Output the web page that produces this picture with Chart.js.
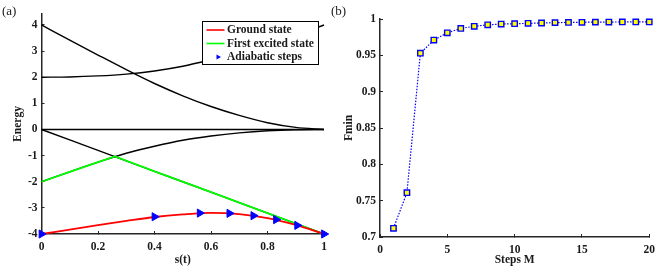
<!DOCTYPE html>
<html>
<head>
<meta charset="utf-8">
<script src="https://cdn.jsdelivr.net/npm/chart.js@4.4.0/dist/chart.umd.min.js"></script>
<style>
  html, body { margin: 0; padding: 0; background: #ffffff; }
  #wrap { position: relative; width: 664px; height: 268px; overflow: hidden; background: #ffffff; }
  .pane { position: absolute; top: 0; }
  .tag { position: absolute; font-family: 'Liberation Serif', serif; font-size: 13px; line-height: 15px; color: #1a1a1a; }
</style>
</head>
<body>
<div id="wrap">
  <div class="pane" style="left:0px;width:340px;height:268px;"><canvas id="ca" width="340" height="268"></canvas></div>
  <div class="pane" style="left:340px;width:324px;height:268px;"><canvas id="cb" width="324" height="268"></canvas></div>
  <div class="tag" style="left:2px;top:3px;">(a)</div>
  <div class="tag" style="left:331px;top:3px;">(b)</div>
</div>
<script>
// ---------- Panel (a) data ----------
const sGrid        = [0, 0.1, 0.2, 0.3, 0.4, 0.5, 0.6, 0.7, 0.8, 0.9, 1.0];
const levelTop     = [4.0, 3.42, 2.85, 2.29, 1.76, 1.29, 0.88, 0.54, 0.26, 0.08, 0.0];
const levelUpper   = [2.0, 2.01, 2.05, 2.12, 2.24, 2.42, 2.67, 2.95, 3.27, 3.62, 4.0];
const levelZero    = [0, 0, 0, 0, 0, 0, 0, 0, 0, 0, 0];
const levelLinear  = [0, -0.4, -0.8, -1.2, -1.6, -2.0, -2.4, -2.8, -3.2, -3.6, -4.0];
const levelLower   = [-2.0, -1.62, -1.25, -0.91, -0.64, -0.41, -0.25, -0.13, -0.05, -0.01, 0.0];
const groundState  = [-4.0, -3.83, -3.66, -3.50, -3.35, -3.25, -3.19, -3.24, -3.39, -3.65, -4.0];
const excitedS     = [0, 0.1, 0.2, 0.26, 0.4, 0.6, 0.8, 1.0];
const excitedState = [-2.0, -1.62, -1.25, -1.03, -1.6, -2.4, -3.2, -4.0];
const stepS        = [0, 0.4, 0.56, 0.665, 0.75, 0.83, 0.905, 1.0];
const stepE        = [-4.0, -3.34, -3.2, -3.21, -3.3, -3.45, -3.67, -4.0];
const xTicksA      = [0, 0.2, 0.4, 0.6, 0.8, 1];
const xTickLabelsA = ['0', '0.2', '0.4', '0.6', '0.8', '1'];
const yTicksA      = [-4, -3, -2, -1, 0, 1, 2, 3, 4];
const yTickLabelsA = ['-4', '-3', '-2', '-1', '0', '1', '2', '3', '4'];

// ---------- Panel (b) data ----------
const stepsM = [1, 2, 3, 4, 5, 6, 7, 8, 9, 10, 11, 12, 13, 14, 15, 16, 17, 18, 19, 20];
const fmin   = [0.712, 0.761, 0.953, 0.971, 0.981, 0.987, 0.990, 0.992, 0.993, 0.9935,
                0.994, 0.9945, 0.995, 0.9953, 0.9955, 0.9957, 0.9958, 0.9959, 0.996, 0.996];
const xTicksB      = [0, 5, 10, 15, 20];
const xTickLabelsB = ['0', '5', '10', '15', '20'];
const yTicksB      = [0.7, 0.75, 0.8, 0.85, 0.9, 0.95, 1];
const yTickLabelsB = ['0.7', '0.75', '0.8', '0.85', '0.9', '0.95', '1'];

const FONT = "'Liberation Serif', 'Times New Roman', serif";
const AXIS = '#262626';
const TXT = '#1a1a1a';

function pts(xs, ys) { return xs.map((x, i) => ({ x: x, y: ys[i] })); }

function tickSetter(values) {
  return function (scale) { scale.ticks = values.map(v => ({ value: v })); };
}
function labeler(values, labels) {
  return function (v) { const i = values.findIndex(t => Math.abs(t - v) < 1e-9); return i >= 0 ? labels[i] : ''; };
}

function axisBase(pos, title, titlePad, ticks, labels, tickPad) {
  return {
    type: 'linear',
    position: pos,
    border: { display: true, color: AXIS, width: 1.5 },
    grid: { drawOnChartArea: false, drawTicks: true, tickLength: -3, tickColor: AXIS, tickWidth: 1 },
    ticks: {
      color: TXT, padding: tickPad, autoSkip: false, maxRotation: 0,
      font: { family: FONT, size: 11.5, weight: 'bold' },
      callback: labeler(ticks, labels)
    },
    afterBuildTicks: tickSetter(ticks),
    title: {
      display: true, text: title, color: TXT,
      font: { family: FONT, size: 11.5, weight: 'bold' },
      padding: titlePad
    }
  };
}

const boxLegend = {
  id: 'boxLegend',
  afterDraw(chart, args, o) {
    const ctx = chart.ctx;
    ctx.save();
    ctx.fillStyle = '#ffffff';
    ctx.fillRect(o.x, o.y, o.w, o.h);
    ctx.strokeStyle = '#000000';
    ctx.lineWidth = 1;
    ctx.strokeRect(o.x, o.y, o.w, o.h);
    ctx.font = 'bold 11.5px ' + FONT;
    ctx.textBaseline = 'middle';
    ctx.textAlign = 'left';
    o.items.forEach((idx, i) => {
      const ds = chart.data.datasets[idx];
      const y = o.y + o.row0 + i * o.rowGap;
      if (ds.showLine === false) {
        const cx = o.x + 15.5, r = 3;
        ctx.fillStyle = ds.backgroundColor;
        ctx.beginPath();
        ctx.moveTo(cx + r, y);
        ctx.lineTo(cx - r * 0.5, y - r * 0.87);
        ctx.lineTo(cx - r * 0.5, y + r * 0.87);
        ctx.closePath();
        ctx.fill();
      } else {
        ctx.strokeStyle = ds.borderColor;
        ctx.lineWidth = 1.6;
        ctx.beginPath();
        ctx.moveTo(o.x + 4, y);
        ctx.lineTo(o.x + 22, y);
        ctx.stroke();
      }
      ctx.fillStyle = TXT;
      ctx.fillText(ds.label, o.x + 24.5, y + 0.5);
    });
    ctx.restore();
  }
};

const commonPlugins = { legend: { display: false }, tooltip: { enabled: false } };

// ---------- Chart (a) ----------
const xA = axisBase('bottom', 's(t)', { top: 0, bottom: 1 }, xTicksA, xTickLabelsA, 9);
xA.min = 0; xA.max = 1;
xA.afterFit = s => { s.height = 34; };
const yA = axisBase('left', 'Energy', { top: 11, bottom: 0 }, yTicksA, yTickLabelsA, 7);
yA.min = -4; yA.max = 4.42;
yA.afterFit = s => { s.width = 41.5; };

function blackLine(ys, smooth) {
  return { label: '', data: pts(sGrid, ys), borderColor: '#000000', borderWidth: 1.4, pointRadius: 0,
           fill: false, clip: false, cubicInterpolationMode: smooth ? 'monotone' : 'default', tension: 0 };
}

new Chart(document.getElementById('ca'), {
  type: 'line',
  data: {
    datasets: [
      { label: 'Adiabatic steps', data: pts(stepS, stepE), showLine: false, pointStyle: 'triangle',
        rotation: 90, pointRadius: 4.7, pointBackgroundColor: '#0000ff', backgroundColor: '#0000ff',
        pointBorderColor: '#0000ff', borderColor: '#0000ff', pointBorderWidth: 1, clip: false },
      { label: 'Ground state', data: pts(sGrid, groundState), borderColor: '#ff0000', borderWidth: 1.8,
        pointRadius: 0, fill: false, clip: false, cubicInterpolationMode: 'monotone' },
      { label: 'First excited state', data: pts(excitedS, excitedState), borderColor: '#00ff00', borderWidth: 1.8,
        pointRadius: 0, fill: false, clip: false, tension: 0 },
      blackLine(levelTop, true),
      blackLine(levelUpper, true),
      blackLine(levelZero, false),
      blackLine(levelLinear, false),
      blackLine(levelLower, true)
    ]
  },
  options: {
    responsive: false, animation: false, devicePixelRatio: 1,
    layout: { padding: { top: 14, right: 16, left: 0, bottom: 0 } },
    plugins: Object.assign({}, commonPlugins, {
      boxLegend: { x: 202.5, y: 21.5, w: 116, h: 43, row0: 8.5, rowGap: 13.5, items: [1, 2, 0] }
    }),
    scales: { x: xA, y: yA }
  },
  plugins: [boxLegend]
});

// ---------- Chart (b) ----------
const xB = axisBase('bottom', 'Steps M', { top: 0, bottom: 1 }, xTicksB, xTickLabelsB, 9);
xB.min = 0; xB.max = 20;
xB.afterFit = s => { s.height = 31; };
const yB = axisBase('left', 'Fmin', { top: 2.6, bottom: 0 }, yTicksB, yTickLabelsB, 7);
yB.min = 0.7; yB.max = 1;
yB.afterFit = s => { s.width = 40; };

new Chart(document.getElementById('cb'), {
  type: 'line',
  data: {
    datasets: [
      { label: 'Fmin', data: pts(stepsM, fmin), borderColor: '#0000ff', borderWidth: 1.2,
        borderDash: [1.5, 1.5], pointStyle: 'rect', pointRadius: 3.8, pointBorderWidth: 1.4,
        pointBackgroundColor: '#ffff00', pointBorderColor: '#0000ff', fill: false, clip: false, tension: 0 }
    ]
  },
  options: {
    responsive: false, animation: false, devicePixelRatio: 1,
    layout: { padding: { top: 19, right: 8, left: 0, bottom: 0 } },
    plugins: commonPlugins,
    scales: { x: xB, y: yB }
  }
});
</script>
</body>
</html>
